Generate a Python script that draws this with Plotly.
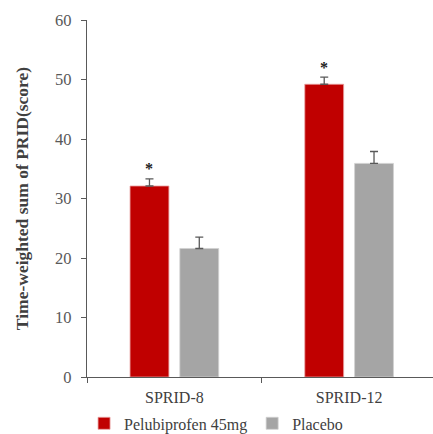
import plotly.graph_objects as go

categories = ["SPRID-8", "SPRID-12"]
pelubiprofen = [32.1, 49.2]
pelubiprofen_err = [1.2, 1.2]
placebo = [21.6, 35.9]
placebo_err = [1.9, 2.0]
significant = ["*", "*"]
y_ticks = [0, 10, 20, 30, 40, 50, 60]

RED = "#C00000"
GRAY = "#A5A5A5"
AX = "#595959"
FONT = "Liberation Serif, Times New Roman, serif"

fig = go.Figure()
fig.add_trace(go.Bar(
    name="Pelubiprofen 45mg", x=categories, y=pelubiprofen, marker_color=RED,
    marker_line=dict(color="#E8A0A0", width=0.8),
    error_y=dict(type="data", array=pelubiprofen_err, arrayminus=[0, 0], symmetric=False,
                 color=AX, thickness=1.3, width=4),
))
fig.add_trace(go.Bar(
    name="Placebo", x=categories, y=placebo, marker_color=GRAY,
    marker_line=dict(color="#D0D0D0", width=0.8),
    error_y=dict(type="data", array=placebo_err, arrayminus=[0, 0], symmetric=False,
                 color=AX, thickness=1.3, width=4),
))

for i, cat in enumerate(categories):
    fig.add_annotation(
        x=i, y=pelubiprofen[i] + pelubiprofen_err[i], yshift=10, xshift=-25,
        text="<b>" + significant[i] + "</b>", showarrow=False,
        font=dict(family=FONT, size=16, color="#222222"),
    )

fig.update_layout(
    width=433, height=434,
    margin=dict(l=87, r=0, t=20, b=57, autoexpand=False),
    paper_bgcolor="white", plot_bgcolor="white",
    barmode="group", bargap=0.43, bargroupgap=0.22,
    font=dict(family=FONT, size=15, color=AX),
    showlegend=True,
    legend=dict(orientation="h", x=0.373, xanchor="center", y=-0.13, yanchor="middle",
                font=dict(family=FONT, size=16, color="#404040"),
                itemwidth=30, tracegroupgap=0, traceorder="normal"),
    xaxis=dict(
        range=[-0.5, 1.48], showline=True, linecolor=AX, linewidth=1.2,
        ticks="outside", tickson="boundaries", ticklen=5, tickcolor=AX,
        ticklabelstandoff=6,
        tickfont=dict(family=FONT, size=16, color="#404040"), showgrid=False,
        automargin=False,
    ),
    yaxis=dict(
        range=[0, 60], tickvals=y_ticks, showline=True, linecolor=AX, linewidth=1.2,
        ticks="outside", ticklen=5, tickcolor=AX, showgrid=False, zeroline=False,
        ticklabelstandoff=6,
        tickfont=dict(family=FONT, size=16.5, color=AX), automargin=False,
        title=dict(text="<b>Time-weighted sum of PRID(score)</b>",
                   font=dict(family=FONT, size=17.5, color="#404040"), standoff=21),
    ),
)

fig.write_html("out.html", config={"displayModeBar": False},
               post_script="document.body.style.margin='0';document.body.style.overflow='hidden';")
